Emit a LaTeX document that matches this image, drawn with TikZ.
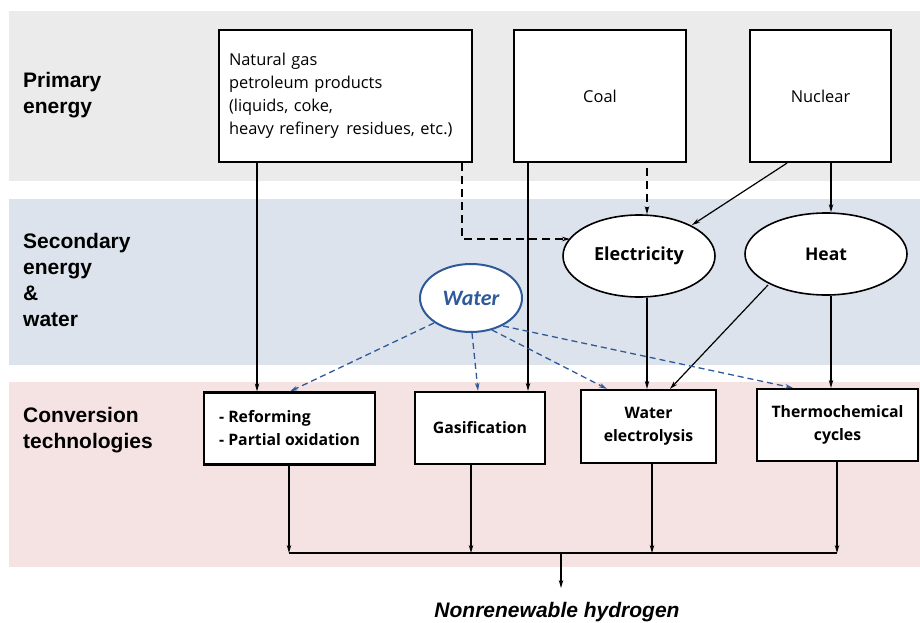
\documentclass[tikz,border=0pt]{standalone}
\usepackage{fontspec}
\setmainfont{Open Sans}
\newfontfamily\arialf{Liberation Sans}
\newfontfamily\calf{Carlito}
\usetikzlibrary{arrows.meta,shapes.geometric}
\definecolor{bandgray}{HTML}{EBEBEB}
\definecolor{bandblue}{HTML}{DCE3EC}
\definecolor{bandpink}{HTML}{F5E2E2}
\definecolor{waterblue}{HTML}{2E5A9A}
\begin{document}
\begin{tikzpicture}[x=1pt,y=-1pt,
 srcbox/.style={draw, line width=2.2pt, fill=white, inner sep=0pt, font=\fontsize{16.4}{23}\selectfont},
 techbox/.style={draw, line width=2.2pt, fill=white, inner sep=0pt, font=\fontsize{15.8}{23}\selectfont\bfseries, align=center},
 oval/.style={ellipse, draw, line width=1.6pt, fill=white, inner sep=0pt},
 arr/.style={-{Stealth[length=8pt,width=4.5pt]}, line width=1.2pt},
 darr/.style={arr, dash pattern=on 8pt off 5pt},
 warr/.style={arr, draw=waterblue, dash pattern=on 6pt off 4pt, line width=1.3pt},
 bandlabel/.style={anchor=west, align=left, font=\arialf\bfseries\fontsize{21}{26}\selectfont, inner sep=0pt}]
\useasboundingbox (0,0) rectangle (920,623);
% bands
\fill[bandgray] (9,11) rectangle (920,181);
\fill[bandblue] (9,199) rectangle (920,365);
\fill[bandpink] (9,382) rectangle (920,567);
% band labels
\node[bandlabel] (lp) at (23,95) {Primary\\energy};
\node[bandlabel] (ls) at (23,280) {Secondary\\energy\\\&\\water};
\node[bandlabel] (lc) at (23,430) {Conversion\\technologies};
% primary sources
\node[srcbox, minimum width=253, minimum height=132, text width=233, align=left] (ng) at (345.5,96)
 {Natural gas\\petroleum products\\(liquids, coke,\\heavy refinery\hspace{2pt} residues, etc.)};
\node[srcbox, minimum width=172, minimum height=132] (coal) at (600,96) {Coal};
\node[srcbox, minimum width=141, minimum height=132] (nuc) at (820.5,96) {Nuclear};
% secondary
\node[oval, minimum width=152, minimum height=82, font=\fontsize{18}{20}\selectfont\bfseries] (elec) at (639,256) {Electricity};
\node[oval, minimum width=162, minimum height=82, font=\fontsize{17.5}{20}\selectfont\bfseries] (heat) at (826,254) {Heat};
\node[oval, draw=waterblue, line width=2pt, minimum width=102, minimum height=68, text=waterblue, font=\calf\bfseries\itshape\fontsize{22}{24}\selectfont] (water) at (471,298) {Water};
% conversion technologies
\node[techbox, minimum width=171, minimum height=72, align=left] (ref) at (289.5,428.5) {- Reforming\\- Partial oxidation};
\node[techbox, minimum width=130, minimum height=72] (gas) at (480,428) {Gasification};
\node[techbox, minimum width=135, minimum height=73] (ely) at (648.5,426.5) {Water\\electrolysis};
\node[techbox, minimum width=161, minimum height=72] (thc) at (837.5,425) {Thermochemical\\cycles};
% output
\node[font=\arialf\bfseries\itshape\fontsize{21}{24}\selectfont, inner sep=0pt] (h2) at (557,612) {Nonrenewable hydrogen};
\coordinate (bl) at (289,553);
\coordinate (br) at (837,553);
\coordinate (bm) at (561,553);
% primary -> conversion / secondary
\draw[arr] (257,0 |- ng.south) -- (257,0 |- ref.north);
\draw[darr] (462,0 |- ng.south) -- (462,239) -- (570,239);
\draw[arr] (528,0 |- coal.south) -- (528,0 |- gas.north);
\draw[darr] (647,168) -- (647,0 |- elec.north);
\draw[arr] (787,0 |- nuc.south) -- (692,225);
\draw[arr] (831,0 |- nuc.south) -- (831,0 |- heat.north);
% secondary -> conversion
\draw[arr] (647,0 |- elec.south) -- (647,0 |- ely.north);
\draw[arr] (768,285) -- (670,0 |- ely.north);
\draw[arr] (831,0 |- heat.south) -- (831,0 |- thc.north);
% water
\draw[warr] (434,323) -- (290,0 |- ref.north);
\draw[warr] (472,333) -- (478,0 |- gas.north);
\draw[warr] (492,330) -- (607,0 |- ely.north);
\draw[warr] (503,326) -- (793,0 |- thc.north);
% collection to hydrogen
\draw[line width=1.2pt] (bl) -- (br);
\draw[arr] (289,0 |- ref.south) -- (bl);
\draw[arr] (471,0 |- gas.south) -- (471,553);
\draw[arr] (652,0 |- ely.south) -- (652,553);
\draw[arr] (837,0 |- thc.south) -- (br);
\draw[arr] (bm) -- (561,588);
\end{tikzpicture}
\end{document}
